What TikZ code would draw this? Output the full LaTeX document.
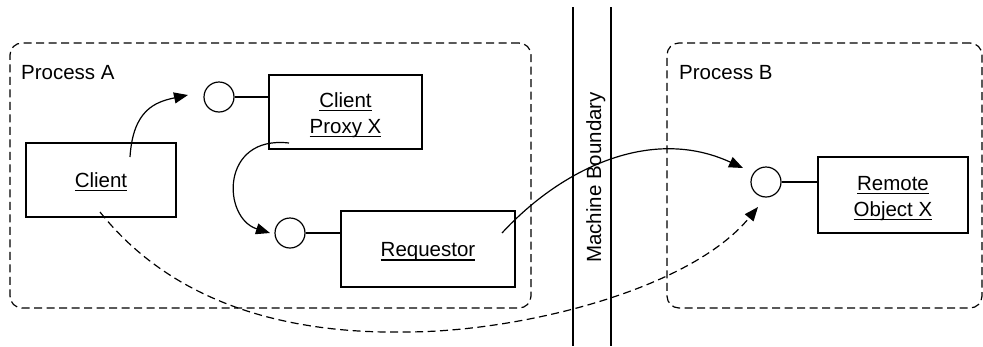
\documentclass[tikz,border=0pt]{standalone}
\usepackage{fontspec}
\setmainfont{Liberation Sans}
\usetikzlibrary{arrows.meta}

% underline at a fixed depth below the baseline, without adding depth
\newcommand{\uln}[1]{\leavevmode\setbox0=\hbox{#1}\rlap{\raisebox{-4pt}[0pt][0pt]{\rule{\wd0}{1.2pt}}}\box0}

\tikzset{
  every node/.style={font=\fontsize{20.5}{26}\selectfont, inner sep=0pt},
  frame/.style={draw, line width=1.2pt, dash pattern=on 8pt off 4.5pt, rounded corners=12pt},
  objbox/.style={draw, line width=1.2pt},
  port/.style={draw, circle, line width=1.2pt, minimum size=30pt},
  txt/.style={anchor=base},
  link/.style={line width=1.2pt},
  flow/.style={line width=1.2pt, -{Triangle[length=14pt,width=11pt]}},
  dflow/.style={flow, dash pattern=on 8pt off 4.5pt},
}

\begin{document}
\begin{tikzpicture}[x=1pt, y=-1pt]
\useasboundingbox (0,0) rectangle (983,346);

% process frames
\node[frame, minimum width=521pt, minimum height=265pt] (procA) at (270.5,175.5) {};
\node[frame, minimum width=315pt, minimum height=265pt] (procB) at (824.5,175.5) {};
\node[anchor=base west] (procAlbl) at (21,79) {Process A};
\node[anchor=base west] (procBlbl) at (679,79) {Process B};

% machine boundary
\draw[link] (573,7) -- (573,346);
\draw[link] (611,7) -- (611,346);
\node[rotate=90, anchor=base] (mb) at (601,177.5) {Machine Boundary};

% objects
\node[objbox, minimum width=150pt, minimum height=74pt] (client) at (101,180) {};
\node[objbox, minimum width=153pt, minimum height=74pt] (proxy) at (345.5,112) {};
\node[objbox, minimum width=174pt, minimum height=76pt] (req) at (428,249) {};
\node[objbox, minimum width=150pt, minimum height=76pt] (remote) at (893,195) {};

\node[txt] (clientTxt) at (101,187) {\uln{Client}};
\node[txt] (proxyTxtA) at (345.5,107) {\uln{Client}};
\node[txt] (proxyTxtB) at (345.5,133) {\uln{Proxy X}};
\node[txt] (reqTxt) at (428,256.5) {\uln{Requestor}};
\node[txt] (remoteTxtA) at (893,190) {\uln{Remote}};
\node[txt] (remoteTxtB) at (893,216) {\uln{Object X}};

% interface lollipops
\node[port] (l1) at (219,97) {};
\node[port] (l2) at (290,233) {};
\node[port] (l3) at (766,182) {};
\draw[link] (l1.east) -- (l1.east -| proxy.west);
\draw[link] (l2.east) -- (l2.east -| req.west);
\draw[link] (l3.east) -- (l3.east -| remote.west);

% calls
\draw[flow] ([xshift=29pt,yshift=23pt]client.center)
  .. controls (133,110) and (155,102) .. ([xshift=-31pt,yshift=2pt]l1.center);
\draw[flow] ([xshift=-56.5pt,yshift=-31pt]proxy.center)
  .. controls (220,135) and (222,218) .. ([xshift=-20pt]l2.center);
\draw[flow] ([xshift=74pt,yshift=16pt]req.center)
  .. controls (560,170) and (650,125) .. ([xshift=-23pt,yshift=14pt]l3.center);
\draw[dflow] ([xshift=-1pt,yshift=-32pt]client.center)
  .. controls (170,300) and (280,334) .. (405,332)
  .. controls (520,332) and (690,290) .. ([xshift=-8pt,yshift=-25pt]l3.center);
\end{tikzpicture}
\end{document}
